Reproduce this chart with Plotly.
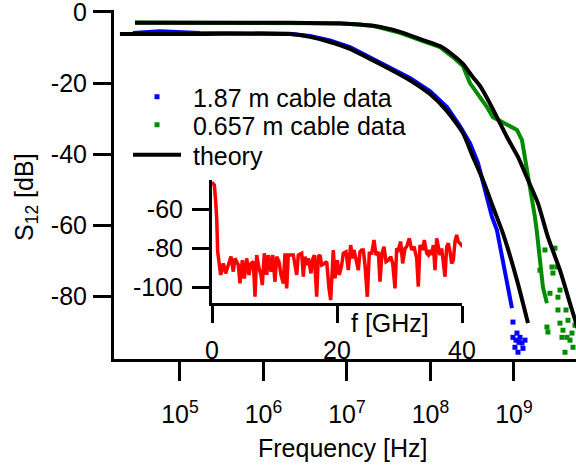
import numpy as np
import plotly.graph_objects as go

# ---------------- data (log10 of frequency in Hz, S12 in dB) ----------------
blue_logf = [4.437, 4.760, 5.240, 5.838, 6.317, 6.557, 6.796, 7.036, 7.275, 7.515,
             7.754, 7.994, 8.198, 8.353, 8.473, 8.569, 8.653, 8.737, 8.796, 8.868,
             8.928, 8.976]
blue_db = [-5.9, -5.4, -5.9, -6.06, -6.1, -6.76, -8.03, -9.86, -12.68, -15.49,
           -18.59, -22.25, -26.76, -32.1, -36.9, -42.5, -50.1, -57.7, -61.4, -70.7,
           -78.3, -83.4]
blue_tail_logf = [8.988, 8.988, 9.012, 9.036, 9.048, 9.072, 9.096, 9.108, 9.132, 9.060, 9.024]
blue_tail_db = [-87.3, -91.6, -94.4, -90.4, -95.8, -91.6, -93.2, -94.7, -92.4, -93.0, -92.4]

blue_th_logf = [4.281, 5.240, 6.317, 6.557, 6.796, 7.036, 7.275, 7.515, 7.754, 7.994,
                8.198, 8.389, 8.509, 8.629, 8.749, 8.868, 9.036, 9.168]
blue_th_db = [-6.2, -6.2, -6.2, -7.0, -8.45, -10.4, -13.2, -16.1, -19.2, -23.1,
              -27.9, -34.1, -40.8, -47.3, -54.9, -62.3, -75.5, -87.6]

green_logf = [4.461, 5.240, 6.317, 6.916, 7.311, 7.635, 7.910, 8.114, 8.269, 8.389,
              8.473, 8.593, 8.677, 8.749, 8.916, 9.036, 9.096, 9.132, 9.168, 9.216,
              9.251, 9.275, 9.311, 9.347, 9.395]
green_db = [-2.96, -2.96, -3.0, -3.2, -3.9, -5.9, -8.2, -9.9, -12.7, -15.2,
            -20.0, -23.9, -26.8, -29.6, -31.8, -33.2, -36.1, -40.8, -46.5, -52.1,
            -57.7, -62.0, -70.7, -77.5, -82.0]
green_tail_logf = [9.311, 9.491, 9.455, 9.467, 9.431, 9.527, 9.395, 9.407, 9.527, 9.551,
                   9.587, 9.635, 9.575, 9.671, 9.611, 9.707, 9.695, 9.647, 9.515, 9.551,
                   9.623, 9.371, 9.731]
green_tail_db = [-72.7, -66.5, -71.8, -73.5, -79.2, -80.3, -88.7, -90.1, -83.9, -87.6,
                 -89.6, -91.6, -91.6, -92.4, -95.8, -94.4, -90.4, -86.8, -71.8, -78.3,
                 -83.9, -67.0, -88.2]

green_th_logf = [4.461, 6.317, 6.916, 7.311, 7.635, 7.910, 8.114, 8.269, 8.389, 8.497,
                 8.593, 8.677, 8.796, 8.916, 9.048, 9.168, 9.287, 9.407, 9.551, 9.695, 9.790]
green_th_db = [-3.0, -3.0, -3.25, -3.9, -5.6, -7.9, -9.6, -12.1, -14.6, -18.0,
               -20.8, -24.2, -29.6, -35.2, -40.8, -47.3, -53.8, -63.4, -72.7, -83.9, -91.0]

# inset: f [GHz] vs dB
inset_f = [0.0, 0.37, 0.59, 0.75, 0.91, 1.12, 1.39, 1.81, 2.19, 2.61, 3.04, 3.41, 3.68,
           4.21, 4.48, 4.85, 5.17, 5.55, 5.92, 6.24, 6.61, 6.88, 7.15, 7.52, 7.84, 8.05,
           8.37, 8.75, 9.01, 9.44, 9.71, 10.08, 10.35, 10.72, 11.04, 11.41, 11.68, 11.95,
           12.21, 12.64, 13.01, 13.55, 13.81, 14.35, 14.61, 14.88, 15.15, 15.41, 15.84,
           16.05, 16.37, 16.75, 17.01, 17.28, 17.55, 17.97, 18.35, 18.72, 18.99, 19.41,
           19.68, 20.05, 20.37, 20.75, 21.01, 21.44, 21.81, 22.19, 22.51, 22.72, 23.04,
           23.41, 23.68, 23.95, 24.21, 24.48, 24.85, 25.17, 25.55, 25.92, 26.24, 26.61,
           26.88, 27.20, 27.52, 27.84, 28.21, 28.59, 28.91, 29.28, 29.55, 29.81, 30.19,
           30.51, 30.88, 31.15, 31.57, 31.95, 32.32, 32.75, 33.01, 33.28, 33.71, 33.97,
           34.35, 34.61, 34.88, 35.15, 35.41, 35.68, 35.95, 36.21, 36.48, 36.75, 37.01,
           37.28, 37.55, 37.81, 38.08, 38.35, 38.61, 38.88, 39.15, 39.41, 39.68, 40.1]
inset_db = [-46.3, -47.7, -56.2, -64.8, -81.9, -86.7, -93.8, -87.9, -93.0, -88.7, -84.4,
            -92.1, -85.3, -88.7, -98.1, -86.2, -95.6, -85.3, -93.8, -87.9, -87.0, -105.0,
            -83.6, -90.4, -93.8, -99.0, -82.7, -93.8, -83.6, -92.1, -83.6, -97.3, -84.4,
            -87.0, -93.8, -98.1, -82.7, -100.7, -83.6, -83.6, -83.6, -93.8, -83.6, -82.7,
            -94.7, -84.4, -88.7, -85.3, -93.0, -86.2, -83.6, -105.0, -84.4, -83.6, -88.7,
            -87.9, -87.0, -100.7, -106.7, -81.0, -95.5, -86.2, -93.8, -88.7, -82.7, -81.9,
            -91.3, -78.5, -85.3, -81.0, -87.0, -91.3, -81.9, -81.0, -81.0, -88.7, -105.0,
            -82.7, -82.7, -75.9, -83.6, -81.9, -97.3, -82.7, -79.3, -87.0, -86.2, -84.4,
            -87.9, -100.7, -80.2, -81.0, -76.7, -87.9, -80.2, -79.3, -75.0, -81.0, -79.3,
            -85.3, -99.8, -78.5, -81.0, -75.9, -82.7, -83.6, -81.0, -83.6, -78.5, -91.3,
            -75.0, -79.3, -83.6, -80.2, -86.2, -94.7, -79.3, -77.6, -81.9, -87.9, -86.2,
            -76.7, -73.3, -76.7, -77.6, -79.3]

main_xtick_exp = [5, 6, 7, 8, 9]
main_ytick_vals = [0, -20, -40, -60, -80]
inset_xtick_vals = [0, 20, 40]
inset_ytick_vals = [-60, -80, -100]

# ---------------- figure ----------------
W, H = 576, 465
FONT = "Arial, Liberation Sans, sans-serif"
FS = 25
NB = "\u00a0"

def hz(a):
    return [10 ** v for v in a]

fig = go.Figure()

BLUE = "#0000ff"
GREEN = "#008c00"

fig.add_trace(go.Scatter(x=hz(blue_logf), y=blue_db, mode="lines",
                         line=dict(color=BLUE, width=4), showlegend=False,
                         hoverinfo="skip"))
fig.add_trace(go.Scatter(x=hz(blue_tail_logf), y=blue_tail_db, mode="markers",
                         marker=dict(color=BLUE, size=5, symbol="square"),
                         name=NB + "1.87 m cable data", legend="legend"))
fig.add_trace(go.Scatter(x=hz(green_logf), y=green_db, mode="lines",
                         line=dict(color=GREEN, width=4), showlegend=False,
                         hoverinfo="skip"))
fig.add_trace(go.Scatter(x=hz(green_tail_logf), y=green_tail_db, mode="markers",
                         marker=dict(color=GREEN, size=5, symbol="square"),
                         name=NB + "0.657 m cable data", legend="legend2"))
fig.add_trace(go.Scatter(x=hz(blue_th_logf), y=blue_th_db, mode="lines",
                         line=dict(color="black", width=4, shape="spline", smoothing=0.6),
                         name=NB + "theory", legend="legend3"))
fig.add_trace(go.Scatter(x=hz(green_th_logf), y=green_th_db, mode="lines",
                         line=dict(color="black", width=4, shape="spline", smoothing=0.6),
                         showlegend=False))

fig.add_trace(go.Scatter(x=inset_f, y=inset_db, mode="lines", xaxis="x2", yaxis="y2",
                         line=dict(color="#ff0000", width=3.5), showlegend=False))

axis_common = dict(showline=True, linewidth=3, linecolor="black", ticks="outside",
                   tickwidth=3, tickcolor="black", showgrid=False, zeroline=False,
                   automargin=False, ticklabeloverflow="allow",
                   tickfont=dict(family=FONT, size=FS, color="black"))

leg_common = dict(xanchor="left", yanchor="middle", bgcolor="rgba(0,0,0,0)",
                  font=dict(family=FONT, size=FS, color="black"), itemwidth=48,
                  borderwidth=0)
LEGX = 128 / W

fig.update_layout(
    template="none",
    width=W, height=H,
    margin=dict(l=0, r=0, t=0, b=0, pad=0),
    paper_bgcolor="white", plot_bgcolor="white",
    font=dict(family=FONT, size=FS, color="black"),
    xaxis=dict(type="log", range=[4.21, 9.743], domain=[114 / W, 1.0], anchor="y",
               tickvals=[10 ** e for e in main_xtick_exp],
               ticktext=["10<sup>%d</sup>" % e for e in main_xtick_exp],
               ticklen=19, ticklabelstandoff=12, **axis_common),
    yaxis=dict(range=[-97.7, 0.56], domain=[1 - 359 / H, 1 - 10 / H], anchor="x",
               tickvals=main_ytick_vals, ticktext=[str(v) for v in main_ytick_vals],
               ticklen=18, ticklabelstandoff=1, **axis_common),
    xaxis2=dict(range=[0, 40], domain=[212 / W, 462 / W], anchor="y2",
                tickvals=inset_xtick_vals, ticktext=[str(v) for v in inset_xtick_vals],
                ticklen=17, ticklabelstandoff=6, **axis_common),
    yaxis2=dict(range=[-108.2, -45.1], domain=[1 - 303 / H, 1 - 180 / H], anchor="x2",
                tickvals=inset_ytick_vals, ticktext=[str(v) for v in inset_ytick_vals],
                ticklen=17, ticklabelstandoff=4, **axis_common),
    showlegend=True,
    legend=dict(x=LEGX, y=1 - 97 / H, **leg_common),
    legend2=dict(x=LEGX, y=1 - 125 / H, **leg_common),
    legend3=dict(x=LEGX, y=1 - 155 / H, **leg_common),
    annotations=[
        dict(text="Frequency [Hz]", x=343 / W, y=1 - 448 / H, xref="paper", yref="paper",
             showarrow=False, font=dict(family=FONT, size=FS), xanchor="center", yanchor="middle"),
        dict(text="S<sub>12</sub> [dB]", x=26 / W, y=1 - 197 / H, xref="paper", yref="paper",
             showarrow=False, textangle=-90, font=dict(family=FONT, size=FS),
             xanchor="center", yanchor="middle"),
        dict(text="f [GHz]", x=390 / W, y=1 - 323 / H, xref="paper", yref="paper",
             showarrow=False, font=dict(family=FONT, size=FS), xanchor="center", yanchor="middle"),
    ],
)

fig.write_html("out.html", config={"displayModeBar": False},
               post_script="document.body.style.margin='0px';document.body.style.overflow='hidden';")
